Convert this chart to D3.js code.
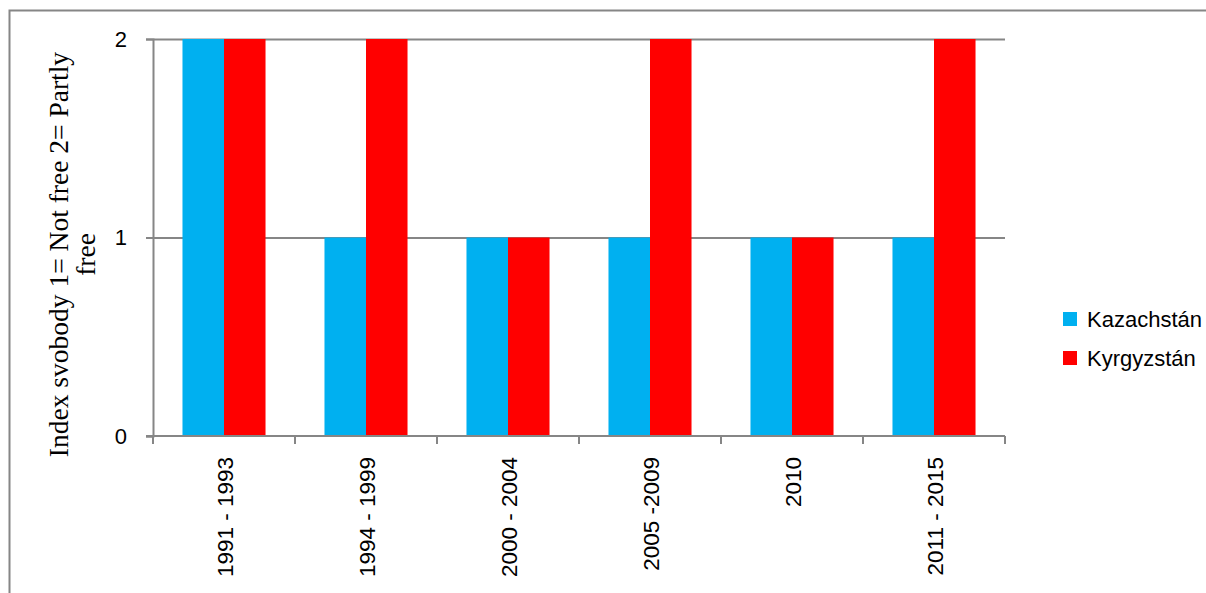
<!DOCTYPE html>
<html>
<head>
<meta charset="utf-8">
<script src="https://cdn.jsdelivr.net/npm/d3@7"></script>
<style>
  body { margin: 0; background: #fff; }
  svg { display: block; }
</style>
</head>
<body>
<svg id="chart"></svg>
<script>
  // data
  const periods = ['1991 - 1993', '1994 - 1999', '2000 - 2004', '2005 -2009', '2010', '2011 - 2015'];
  const seriesNames = ['Kazachstán', 'Kyrgyzstán'];
  const kazachstan = [2, 1, 1, 1, 1, 1];
  const kyrgyzstan = [2, 2, 1, 2, 1, 2];
  const yTicks = [0, 1, 2];
  const colors = ['#00B0F0', '#FF0000'];

  const seriesValues = [kazachstan, kyrgyzstan];
  const rows = periods.map((p, i) => ({
    period: p,
    values: seriesNames.map((s, j) => ({ name: s, value: seriesValues[j][i] }))
  }));

  const W = 1206, H = 593;
  const svg = d3.select('svg#chart')
    .attr('width', W)
    .attr('height', H);

  const plotLeft = 153, plotRight = 1005, plotTop = 39, plotBottom = 436;
  const grey = '#868686';
  const tickFont = '"Liberation Sans", Arial, sans-serif';

  // outer chart border
  svg.append('rect')
    .attr('x', 9.5)
    .attr('y', 10.5)
    .attr('width', 1300)
    .attr('height', 700)
    .attr('fill', 'none')
    .attr('stroke', grey)
    .attr('stroke-width', 2);

  const xScale = d3.scaleBand()
    .domain(periods)
    .range([plotLeft, plotRight])
    .padding(0);

  const xInner = d3.scaleBand()
    .domain(seriesNames)
    .range([0, xScale.bandwidth()])
    .paddingInner(0)
    .paddingOuter(0.71);

  const yScale = d3.scaleLinear()
    .domain([0, 2])
    .range([plotBottom, plotTop]);

  // grid lines
  svg.append('g')
    .attr('transform', `translate(${plotLeft}, 0)`)
    .call(d3.axisLeft(yScale)
      .tickValues(yTicks.filter(t => t > 0))
      .tickSize(-(plotRight - plotLeft))
      .tickFormat(''))
    .call(g => g.select('.domain').remove())
    .selectAll('line')
    .attr('stroke', grey)
    .attr('stroke-width', 2);

  // bars
  const groups = svg.selectAll('g.group')
    .data(rows)
    .enter()
    .append('g')
    .attr('class', 'group')
    .attr('transform', d => `translate(${xScale(d.period)}, 0)`);

  groups.selectAll('rect')
    .data(d => d.values)
    .enter()
    .append('rect')
    .attr('x', d => xInner(d.name))
    .attr('y', d => yScale(d.value))
    .attr('width', xInner.bandwidth())
    .attr('height', d => yScale(0) - yScale(d.value))
    .attr('fill', (d, i) => colors[i]);

  // y axis
  const yAxis = svg.append('g')
    .attr('transform', `translate(${plotLeft}, 0)`)
    .call(d3.axisLeft(yScale)
      .tickValues(yTicks)
      .tickFormat(d3.format('d'))
      .tickSize(7)
      .tickPadding(19));
  yAxis.select('.domain')
    .attr('stroke', grey)
    .attr('stroke-width', 2);
  yAxis.selectAll('line')
    .attr('stroke', grey)
    .attr('stroke-width', 2);
  yAxis.selectAll('text')
    .attr('font-family', tickFont)
    .attr('font-size', 22)
    .attr('fill', '#000');

  // x axis, ticks on category boundaries
  const boundaries = periods.map(p => xScale(p)).concat([plotRight]);
  const xAxisG = svg.append('g');
  xAxisG.append('line')
    .attr('x1', plotLeft - 7)
    .attr('x2', plotRight)
    .attr('y1', plotBottom)
    .attr('y2', plotBottom)
    .attr('stroke', grey)
    .attr('stroke-width', 2);
  xAxisG.selectAll('line.tick')
    .data(boundaries)
    .enter()
    .append('line')
    .attr('class', 'tick')
    .attr('x1', d => d)
    .attr('x2', d => d)
    .attr('y1', plotBottom)
    .attr('y2', plotBottom + 8)
    .attr('stroke', grey)
    .attr('stroke-width', 2);

  xAxisG.selectAll('text')
    .data(periods)
    .enter()
    .append('text')
    .attr('transform', d => `translate(${xScale(d) + xScale.bandwidth() / 2 + 9}, ${plotBottom + 21}) rotate(-90)`)
    .attr('text-anchor', 'end')
    .attr('font-family', tickFont)
    .attr('font-size', 22.5)
    .attr('fill', '#000')
    .text(d => d);

  // y axis title
  const title = svg.append('text')
    .attr('transform', `translate(68, 254.5) rotate(-90)`)
    .attr('text-anchor', 'middle')
    .attr('font-family', '"Liberation Serif", "Times New Roman", serif')
    .attr('font-size', 27.5)
    .attr('fill', '#000');
  title.append('tspan')
    .attr('x', 0)
    .attr('dy', 0)
    .text('Index svobody 1= Not free 2= Partly');
  title.append('tspan')
    .attr('x', 0)
    .attr('dy', 27)
    .text('free');

  // legend
  const legend = svg.selectAll('g.legend')
    .data(seriesNames)
    .enter()
    .append('g')
    .attr('class', 'legend')
    .attr('transform', (d, i) => `translate(1063, ${312 + i * 39})`);
  legend.append('rect')
    .attr('width', 14)
    .attr('height', 14)
    .attr('fill', (d, i) => colors[i]);
  legend.append('text')
    .attr('x', 24)
    .attr('y', 15)
    .attr('font-family', tickFont)
    .attr('font-size', 22)
    .attr('fill', '#000')
    .text(d => d);
</script>
</body>
</html>
